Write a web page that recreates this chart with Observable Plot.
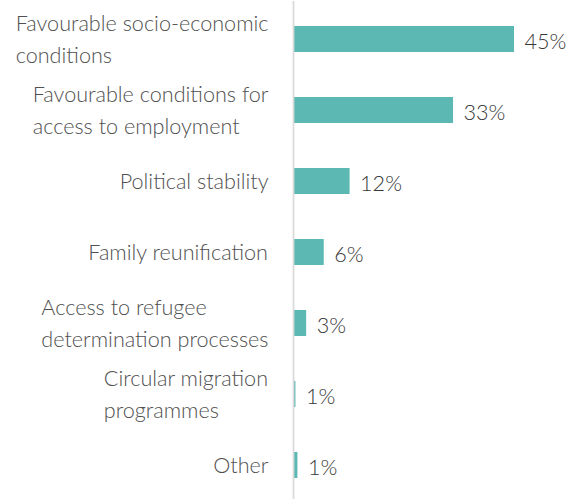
<!DOCTYPE html>
<html>
<head>
<meta charset="utf-8">
<script src="https://cdn.jsdelivr.net/npm/d3@7"></script>
<script src="https://cdn.jsdelivr.net/npm/@observablehq/plot@0.6"></script>
<style>
  html, body { margin: 0; padding: 0; background: #ffffff; }
  #chart { width: 575px; height: 499px; overflow: hidden; }
</style>
</head>
<body>
<div id="chart"></div>
<script>
// Category labels (lines separated by \n)
const categories = [
  "Favourable socio-economic\nconditions",
  "Favourable conditions for\naccess to employment",
  "Political stability",
  "Family reunification",
  "Access to refugee\ndetermination processes",
  "Circular migration\nprogrammes",
  "Other"
];
// Values (percent)
const values = [45.3, 32.8, 11.6, 6.3, 2.7, 0.5, 0.9];
// Printed value labels
const valueLabels = ["45%", "33%", "12%", "6%", "3%", "1%", "1%"];

const data = categories.map((c, i) => ({category: c, value: values[i], label: valueLabels[i]}));

const FONT_FAMILY = "Lato, 'Noto Sans', sans-serif";
const FONT_SIZE = 21.6;
const FONT_WEIGHT = 300;
const LINE_PX = 31.7;

const ctx = document.createElement("canvas").getContext("2d");
ctx.font = `${FONT_WEIGHT} ${FONT_SIZE}px Lato`;
const blockWidth = c => Math.max(...c.split("\n").map(l => ctx.measureText(l).width));

const labelMarks = categories.map(c => Plot.text([c], {
  x: 0,
  y: d => d,
  text: d => d,
  textAnchor: "start",
  lineAnchor: "middle",
  lineHeight: LINE_PX / FONT_SIZE,
  dx: -(25 + blockWidth(c)),
  dy: -2.5,
  fill: "#505050",
  fontSize: FONT_SIZE,
  fontWeight: FONT_WEIGHT
}));

const chart = Plot.plot({
  width: 575,
  height: 499,
  marginLeft: 293,
  marginRight: 0,
  marginTop: 1,
  marginBottom: -4,
  style: {fontFamily: FONT_FAMILY, background: "#ffffff", overflow: "visible"},
  x: {domain: [0, 57.8], axis: null},
  y: {domain: categories, axis: null, paddingInner: 0.64, paddingOuter: 0.32},
  marks: [
    Plot.barX(data, {x: "value", y: "category", fill: "#5cb8b3"}),
    Plot.ruleX([0], {stroke: "#d9d9d9", strokeWidth: 1.7}),
    Plot.text(data, {
      x: "value", y: "category", text: "label",
      textAnchor: "start", dx: 10, dy: 2.5,
      fill: "#383838", fontSize: FONT_SIZE, fontWeight: FONT_WEIGHT
    }),
    ...labelMarks
  ]
});
document.getElementById("chart").appendChild(chart);
</script>
</body>
</html>
